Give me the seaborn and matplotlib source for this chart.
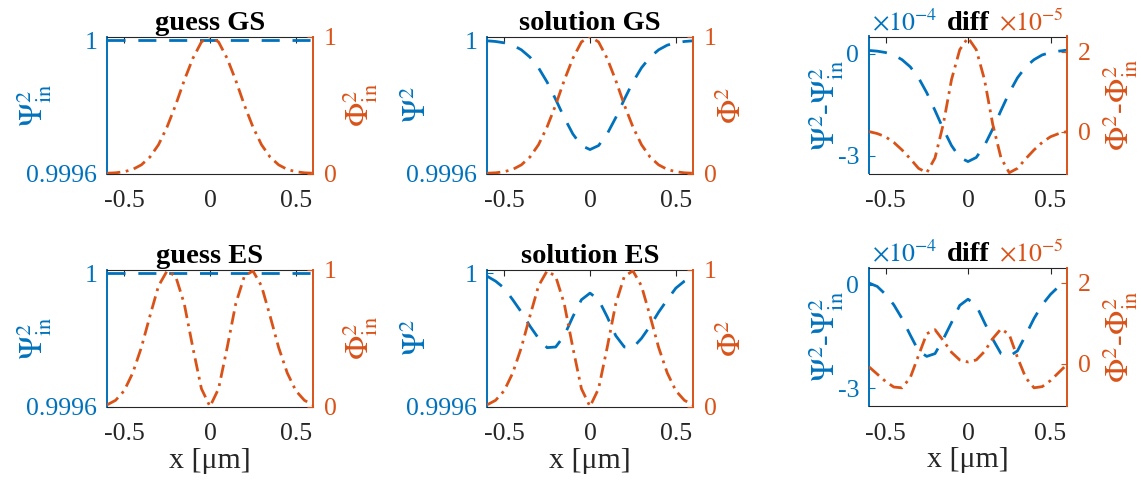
import matplotlib
matplotlib.use("Agg")
import matplotlib.pyplot as plt
import seaborn as sns

# ---------------- data ----------------
x_um = [-0.6, -0.55, -0.5, -0.45, -0.4, -0.35, -0.3, -0.25, -0.2, -0.15, -0.1, -0.05, 0.0,
        0.05, 0.1, 0.15, 0.2, 0.25, 0.3, 0.35, 0.4, 0.45, 0.5, 0.55, 0.6]

# ground state
psi_in_gs = [1.0, 1.0, 1.0, 1.0, 1.0, 1.0, 1.0, 1.0, 1.0, 1.0, 1.0, 1.0, 1.0,
             1.0, 1.0, 1.0, 1.0, 1.0, 1.0, 1.0, 1.0, 1.0, 1.0, 1.0, 1.0]
phi_in_gs = [0.002, 0.005, 0.013, 0.030, 0.063, 0.12, 0.21, 0.34, 0.50, 0.68, 0.84, 0.96, 1.0,
             0.96, 0.84, 0.68, 0.50, 0.34, 0.21, 0.12, 0.063, 0.030, 0.013, 0.005, 0.002]
psi_gs = [0.999999, 0.999997, 0.999993, 0.999986, 0.999972, 0.999950, 0.999918, 0.999875,
          0.999823, 0.999768, 0.999719, 0.999684, 0.999672, 0.999684, 0.999719, 0.999768,
          0.999823, 0.999875, 0.999918, 0.999950, 0.999972, 0.999986, 0.999993, 0.999997, 0.999999]
phi_gs = [0.002, 0.005, 0.013, 0.030, 0.063, 0.12, 0.21, 0.34, 0.50, 0.68, 0.84, 0.96, 1.0,
          0.96, 0.84, 0.68, 0.50, 0.34, 0.21, 0.12, 0.063, 0.030, 0.013, 0.005, 0.002]
dpsi_gs_e4 = [0.09, 0.07, 0.03, -0.04, -0.18, -0.39, -0.71, -1.15, -1.67, -2.21, -2.70, -3.05, -3.17,
              -3.05, -2.70, -2.21, -1.67, -1.15, -0.71, -0.39, -0.18, -0.04, 0.03, 0.07, 0.10]
dphi_gs_e5 = [0.0, -0.05, -0.13, -0.27, -0.46, -0.68, -0.92, -1.03, -0.66, 0.18, 1.30, 2.05, 2.35,
              2.05, 1.30, 0.18, -0.66, -1.03, -0.92, -0.68, -0.46, -0.27, -0.13, -0.05, 0.0]

# excited state
psi_in_es = [1.0, 1.0, 1.0, 1.0, 1.0, 1.0, 1.0, 1.0, 1.0, 1.0, 1.0, 1.0, 1.0,
             1.0, 1.0, 1.0, 1.0, 1.0, 1.0, 1.0, 1.0, 1.0, 1.0, 1.0, 1.0]
phi_in_es = [0.012, 0.045, 0.115, 0.245, 0.43, 0.66, 0.88, 0.99, 0.95, 0.75, 0.43, 0.13, 0.0,
             0.13, 0.43, 0.75, 0.95, 0.99, 0.88, 0.66, 0.43, 0.245, 0.115, 0.045, 0.012]
psi_es = [0.999992, 0.999977, 0.999956, 0.999921, 0.999884, 0.999842, 0.999805, 0.999777,
          0.999779, 0.999813, 0.999870, 0.999921, 0.999941, 0.999921, 0.999870, 0.999813,
          0.999779, 0.999777, 0.999805, 0.999842, 0.999884, 0.999921, 0.999956, 0.999977, 0.999992]
phi_es = [0.012, 0.045, 0.115, 0.245, 0.43, 0.66, 0.88, 0.99, 0.95, 0.75, 0.43, 0.13, 0.0,
          0.13, 0.43, 0.75, 0.95, 0.99, 0.88, 0.66, 0.43, 0.245, 0.115, 0.045, 0.012]
dpsi_es_e4 = [0.05, -0.05, -0.28, -0.58, -0.98, -1.46, -1.92, -2.08, -2.00, -1.58, -1.10, -0.60, -0.42,
              -0.60, -1.10, -1.58, -2.00, -2.08, -1.92, -1.46, -0.98, -0.58, -0.28, -0.05, 0.05]
dphi_es_e5 = [-0.08, -0.26, -0.44, -0.58, -0.60, -0.35, 0.20, 0.74, 0.84, 0.57, 0.28, 0.09, 0.04,
              0.09, 0.30, 0.62, 0.86, 0.72, 0.15, -0.35, -0.60, -0.57, -0.42, -0.22, -0.02]

titles = [["guess GS", "solution GS", "diff"], ["guess ES", "solution ES", "diff"]]
x_ticks = [-0.5, 0, 0.5]
x_ticklabels = ["-0.5", "0", "0.5"]
xlabel = "x [\u03bcm]"

# ---------------- style ----------------
sns.set_style("white")
plt.rcParams.update({
    "font.family": ["Liberation Serif", "DejaVu Serif"],
    "mathtext.fontset": "stix",
    "axes.unicode_minus": False,
})

BLUE = "#0072BD"
ORANGE = "#D95319"
DARK = "#262626"
DASH = (0, (6.5, 4.6))
DASHDOT = (0, (4.8, 2.0, 1.0, 2.0))
LW = 2.0
TICK_FS = 18.5
YLAB_FS = 23
XLAB_FS = 21.5
TITLE_FS = 20.5

W, H = 1141, 487
fig = plt.figure(figsize=(W / 100, H / 100), dpi=100)
fig.patch.set_facecolor("white")


def rect(l, r, t, b):
    return [l / W, 1 - b / H, (r - l) / W, (b - t) / H]


def panel(r, left_y, right_y, title, left_lim, right_lim, lticks, lticklabels,
          rticks, rticklabels, lyl, ryl, lx, rx, show_xlabel, offsets=None):
    ax = fig.add_axes(r)
    ax2 = ax.twinx()
    sns.lineplot(x=x_um, y=left_y, ax=ax, color=BLUE, linewidth=LW, linestyle=DASH)
    sns.lineplot(x=x_um, y=right_y, ax=ax2, color=ORANGE, linewidth=LW, linestyle=DASHDOT)
    ax.set_xlim(-0.6, 0.6)
    ax.set_ylim(*left_lim)
    ax2.set_ylim(*right_lim)
    ax.set_xticks(x_ticks)
    ax.set_xticklabels(x_ticklabels)
    ax.set_yticks(lticks)
    ax.set_yticklabels(lticklabels)
    ax2.set_yticks(rticks)
    ax2.set_yticklabels(rticklabels)
    ax.tick_params(axis="x", direction="in", top=True, length=4, width=0.8,
                   color=DARK, labelcolor=DARK, labelsize=TICK_FS, pad=12)
    ax.tick_params(axis="y", direction="in", length=4, width=0.8,
                   color=BLUE, labelcolor=BLUE, labelsize=TICK_FS, pad=7)
    ax2.tick_params(axis="y", direction="in", length=4, width=0.8,
                    color=ORANGE, labelcolor=ORANGE, labelsize=TICK_FS, pad=8)
    ax2.tick_params(axis="x", bottom=False, top=False, labelbottom=False, labeltop=False)
    for s in ("top", "bottom"):
        ax.spines[s].set_color(DARK)
        ax.spines[s].set_linewidth(0.8)
    ax.spines["left"].set_color(BLUE)
    ax.spines["left"].set_linewidth(1.4)
    ax.spines["right"].set_visible(False)
    for s in ("top", "bottom", "left"):
        ax2.spines[s].set_visible(False)
    ax2.spines["right"].set_color(ORANGE)
    ax2.spines["right"].set_linewidth(1.4)
    ax.set_ylabel(lyl, color=BLUE, fontsize=YLAB_FS)
    ax2.set_ylabel(ryl, color=ORANGE, fontsize=YLAB_FS)
    ax.yaxis.set_label_coords(lx, 0.5)
    ax2.yaxis.set_label_coords(rx, 0.5)
    ax.set_title(title, fontsize=TITLE_FS, fontweight="bold", color="black", pad=5)
    if show_xlabel:
        ax.set_xlabel(xlabel, color=DARK, fontsize=XLAB_FS, labelpad=2)
    else:
        ax.set_xlabel("")
    if offsets:
        ax.text(0.015, 1.01, offsets[0], transform=ax.transAxes, color=BLUE,
                fontsize=TICK_FS, ha="left", va="bottom")
        ax.text(0.985, 1.01, offsets[1], transform=ax.transAxes, color=ORANGE,
                fontsize=TICK_FS, ha="right", va="bottom")
    return ax, ax2


lim_wave = (0.9996, 1.000012)
lim_phi = (0, 1)
lim_dpsi = (-3.52, 0.5)
lim_dphi = (-1.05, 2.38)
offs = (r"$\times10^{-4}$", r"$\times10^{-5}$")

rows = [(36.5, 173.5), (269.5, 406.5)]
cols = [(107, 313), (487, 693), (869, 1067)]

data_rows = [
    (psi_in_gs, phi_in_gs, psi_gs, phi_gs, dpsi_gs_e4, dphi_gs_e5),
    (psi_in_es, phi_in_es, psi_es, phi_es, dpsi_es_e4, dphi_es_e5),
]

for i, (pin, fin, ps, fs, dps, dfs) in enumerate(data_rows):
    t, b = rows[i]
    last = i == 1
    panel(rect(cols[0][0], cols[0][1], t, b), pin, fin, titles[i][0], lim_wave, lim_phi,
          [0.9996, 1.0], ["0.9996", "1"], [0, 1], ["0", "1"],
          r"$\Psi^2_{\rm in}$", r"$\Phi^2_{\rm in}$", -0.262, 1.131, last)
    panel(rect(cols[1][0], cols[1][1], t, b), ps, fs, titles[i][1], lim_wave, lim_phi,
          [0.9996, 1.0], ["0.9996", "1"], [0, 1], ["0", "1"],
          r"$\Psi^2$", r"$\Phi^2$", -0.262, 1.117, last)
    panel(rect(cols[2][0], cols[2][1], t - (2 if last else 0), b - (0.5 if last else 0)),
          dps, dfs, titles[i][2], lim_dpsi, lim_dphi,
          [-3, 0], ["-3", "0"], [0, 2], ["0", "2"],
          r"$\Psi^2$-$\Psi^2_{\rm in}$", r"$\Phi^2$-$\Phi^2_{\rm in}$", -0.12, 1.167, last,
          offsets=offs)

fig.savefig("out.png", dpi=100, facecolor="white")
